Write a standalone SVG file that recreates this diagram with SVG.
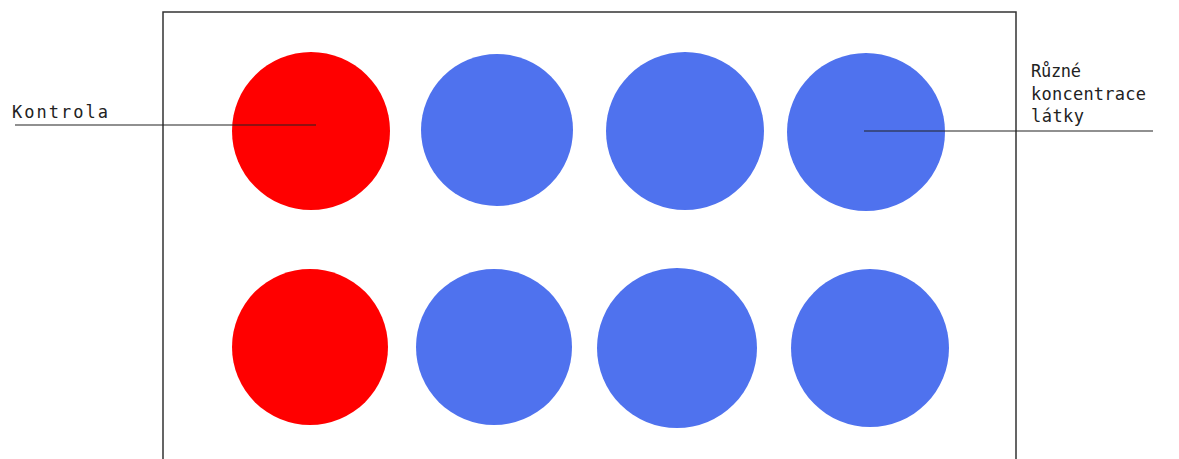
<svg xmlns="http://www.w3.org/2000/svg" width="1179" height="459" viewBox="0 0 1179 459">
<style>
.frame{fill:none;stroke:#333;stroke-width:1.5}
.red{fill:#ff0000}
.blue{fill:#4f72ee}
.lead{stroke:#222;stroke-width:1.2;fill:none}
.lbl{font-family:"DejaVu Sans Mono",monospace;font-size:17px;fill:#222}
</style>
<rect width="1179" height="459" fill="#fff"/>
<g id="frame"><path class="frame" d="M163,470 V12 H1016 V470"/></g>
<g id="c1"><circle class="red" cx="311" cy="131" r="79"/></g>
<g id="c2"><circle class="blue" cx="497" cy="130" r="76"/></g>
<g id="c3"><circle class="blue" cx="685" cy="131" r="79"/></g>
<g id="c4"><circle class="blue" cx="866" cy="132" r="79"/></g>
<g id="c5"><circle class="red" cx="310" cy="347" r="78"/></g>
<g id="c6"><circle class="blue" cx="494" cy="347" r="78"/></g>
<g id="c7"><circle class="blue" cx="677" cy="348" r="80"/></g>
<g id="c8"><circle class="blue" cx="870" cy="348" r="79"/></g>
<g id="connectors">
<line class="lead" x1="15" y1="125" x2="316" y2="125"/>
<line class="lead" x1="864" y1="131" x2="1153" y2="131"/>
</g>
<g id="label-kontrola"><text class="lbl" x="12" y="118" textLength="96" lengthAdjust="spacing">Kontrola</text></g>
<g id="label-ruzne">
<text class="lbl" x="1031" y="77" textLength="50" lengthAdjust="spacing">Různé</text>
<text class="lbl" x="1031" y="100" textLength="115" lengthAdjust="spacing">koncentrace</text>
<text class="lbl" x="1031" y="122" textLength="53" lengthAdjust="spacing">látky</text>
</g>
</svg>
